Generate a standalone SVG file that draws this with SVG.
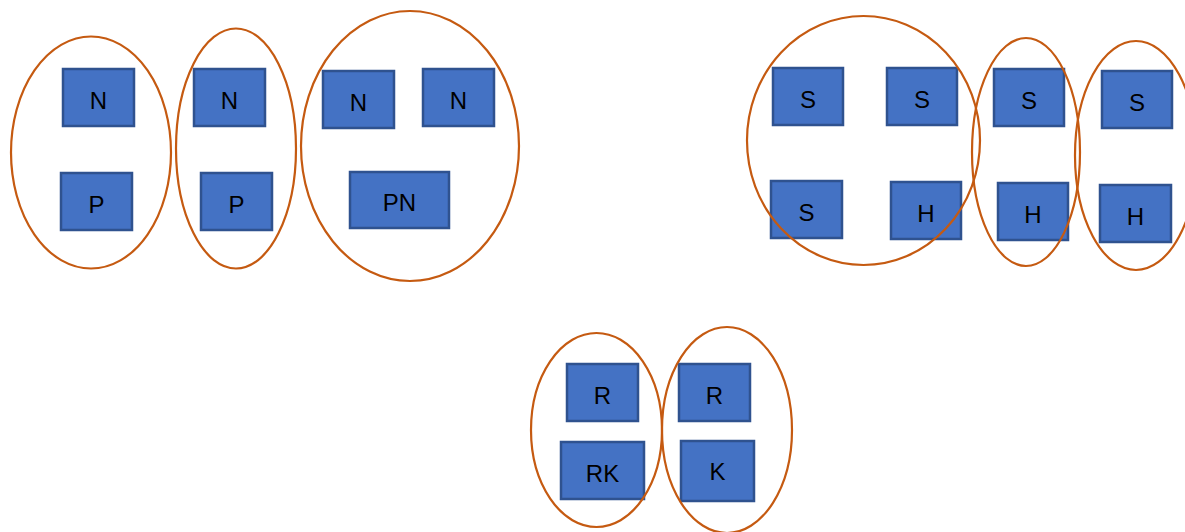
<svg xmlns="http://www.w3.org/2000/svg" width="1185" height="532" viewBox="0 0 1185 532">
<style>
.box{fill:#4472C4;stroke:#2F528F;stroke-width:2.5}
.lbl{font-family:"Liberation Sans",Arial,sans-serif;font-size:24px;fill:#000;text-anchor:middle}
.grp{fill:none;stroke:#C55A11;stroke-width:2.2}
</style>
<rect width="1185" height="532" fill="#fff"/>
<g id="n1"><rect class="box" x="63" y="69" width="71" height="57"/><text class="lbl" x="98.5" y="109">N</text></g>
<g id="p1"><rect class="box" x="61" y="173" width="71" height="57"/><text class="lbl" x="96.5" y="213">P</text></g>
<g id="n2"><rect class="box" x="194" y="69" width="71" height="57"/><text class="lbl" x="229.5" y="109">N</text></g>
<g id="p2"><rect class="box" x="201" y="173" width="71" height="57"/><text class="lbl" x="236.5" y="213">P</text></g>
<g id="n3"><rect class="box" x="323" y="71" width="71" height="57"/><text class="lbl" x="358.5" y="111">N</text></g>
<g id="n4"><rect class="box" x="423" y="69" width="71" height="57"/><text class="lbl" x="458.5" y="109">N</text></g>
<g id="pn"><rect class="box" x="350" y="172" width="99" height="56"/><text class="lbl" x="399.5" y="211">PN</text></g>
<g id="s1"><rect class="box" x="773" y="68" width="70" height="57"/><text class="lbl" x="808" y="108">S</text></g>
<g id="s2"><rect class="box" x="887" y="68" width="70" height="57"/><text class="lbl" x="922" y="108">S</text></g>
<g id="s3"><rect class="box" x="994" y="69" width="70" height="57"/><text class="lbl" x="1029" y="109">S</text></g>
<g id="s4"><rect class="box" x="1102" y="71" width="70" height="57"/><text class="lbl" x="1137" y="111">S</text></g>
<g id="s5"><rect class="box" x="771" y="181" width="71" height="57"/><text class="lbl" x="806.5" y="221">S</text></g>
<g id="h1"><rect class="box" x="891" y="182" width="70" height="57"/><text class="lbl" x="926" y="222">H</text></g>
<g id="h2"><rect class="box" x="998" y="183" width="70" height="57"/><text class="lbl" x="1033" y="223">H</text></g>
<g id="h3"><rect class="box" x="1100" y="185" width="71" height="57"/><text class="lbl" x="1135.5" y="225">H</text></g>
<g id="r1"><rect class="box" x="567" y="364" width="71" height="57"/><text class="lbl" x="602.5" y="404">R</text></g>
<g id="r2"><rect class="box" x="679" y="364" width="71" height="57"/><text class="lbl" x="714.5" y="404">R</text></g>
<g id="rk"><rect class="box" x="561" y="442" width="83" height="57"/><text class="lbl" x="602.5" y="482">RK</text></g>
<g id="k"><rect class="box" x="681" y="441" width="73" height="60"/><text class="lbl" x="717.5" y="480">K</text></g>
<g id="groups">
<ellipse class="grp" cx="91" cy="152.5" rx="80" ry="116"/>
<ellipse class="grp" cx="236" cy="148.5" rx="60" ry="120"/>
<ellipse class="grp" cx="410" cy="146" rx="109" ry="135"/>
<ellipse class="grp" cx="863.5" cy="140.5" rx="116.5" ry="124.5"/>
<ellipse class="grp" cx="1026" cy="152" rx="54" ry="114"/>
<ellipse class="grp" cx="1136" cy="155.5" rx="61" ry="114.5"/>
<ellipse class="grp" cx="596.5" cy="430" rx="65.5" ry="97"/>
<ellipse class="grp" cx="727" cy="430" rx="65" ry="103"/>
</g>
</svg>
